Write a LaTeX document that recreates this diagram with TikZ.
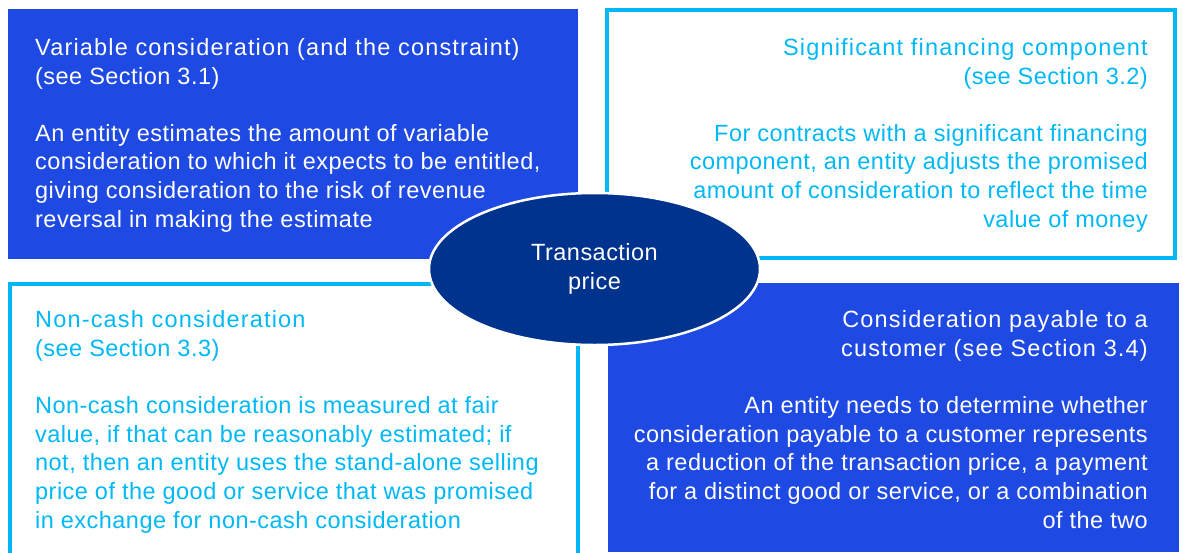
\documentclass[tikz,border=0pt]{standalone}
\usepackage{fontspec}
\setmainfont{Liberation Sans}[LetterSpace=2.0]
\newfontfamily\headfont{Liberation Sans}[LetterSpace=5.0]
\usepackage{tikz}
\usetikzlibrary{shapes,positioning}
\definecolor{cobalt}{HTML}{1E49E2}
\definecolor{darkblue}{HTML}{00338D}
\definecolor{skyblue}{HTML}{00B8F5}
\tikzset{
  boxtext/.style = {inner sep=0pt, font=\fontsize{23.5}{28.6}\selectfont},
  outlined/.style = {draw=skyblue, line width=4pt, line join=miter},
}

\begin{document}
\begin{tikzpicture}[x=1pt, y=-1pt]
          \useasboundingbox (0,0) rectangle (1183,552);
          \fill[cobalt] (8,9) rectangle (578,259);
          \draw[outlined] (607,10) rectangle (1175,258);
          \draw[outlined] (10,560) |- (578,284) -- (578,560);
          \fill[cobalt] (608,283) rectangle (1179,552);
          \node[boxtext, text=white, align=left, anchor=base west] (varcons) at (35,227)
               {{\headfont Variable consideration (and the constraint)}\\(see Section 3.1)\\[28.6pt]
                An entity estimates the amount of variable\\consideration to which it expects to be entitled,\\
                giving consideration to the risk of revenue\\reversal in making the estimate};
          \node[boxtext, text=skyblue, align=right, anchor=base east] (finance) at (1148,227)
               {{\headfont Significant financing component}\\(see Section 3.2)\\[28.6pt]
                For contracts with a significant financing\\component, an entity adjusts the promised\\
                amount of consideration to reflect the time\\value of money};
          \node[boxtext, text=skyblue, align=left, anchor=base west] (noncash) at (35,528)
               {{\headfont Non-cash consideration}\\(see Section 3.3)\\[28.6pt]
                Non-cash consideration is measured at fair\\value, if that can be reasonably estimated; if\\
                not, then an entity uses the stand-alone selling\\price of the good or service that was promised\\
                in exchange for non-cash consideration};
          \node[boxtext, text=white, align=right, anchor=base east] (payable) at (1148,528)
               {{\headfont Consideration payable to a}\\{\headfont customer (see Section 3.4)}\\[28.6pt]
                An entity needs to determine whether\\consideration payable to a customer represents\\
                a reduction of the transaction price, a payment\\for a distinct good or service, or a combination\\
                of the two};
          \node[ellipse, fill=darkblue, draw=white, line width=2.5pt, inner sep=0pt,
                minimum width=331, minimum height=152, boxtext, text=white, align=center]
               (price) at (594.5,269) {Transaction\\price};
        \end{tikzpicture}
\end{document}
